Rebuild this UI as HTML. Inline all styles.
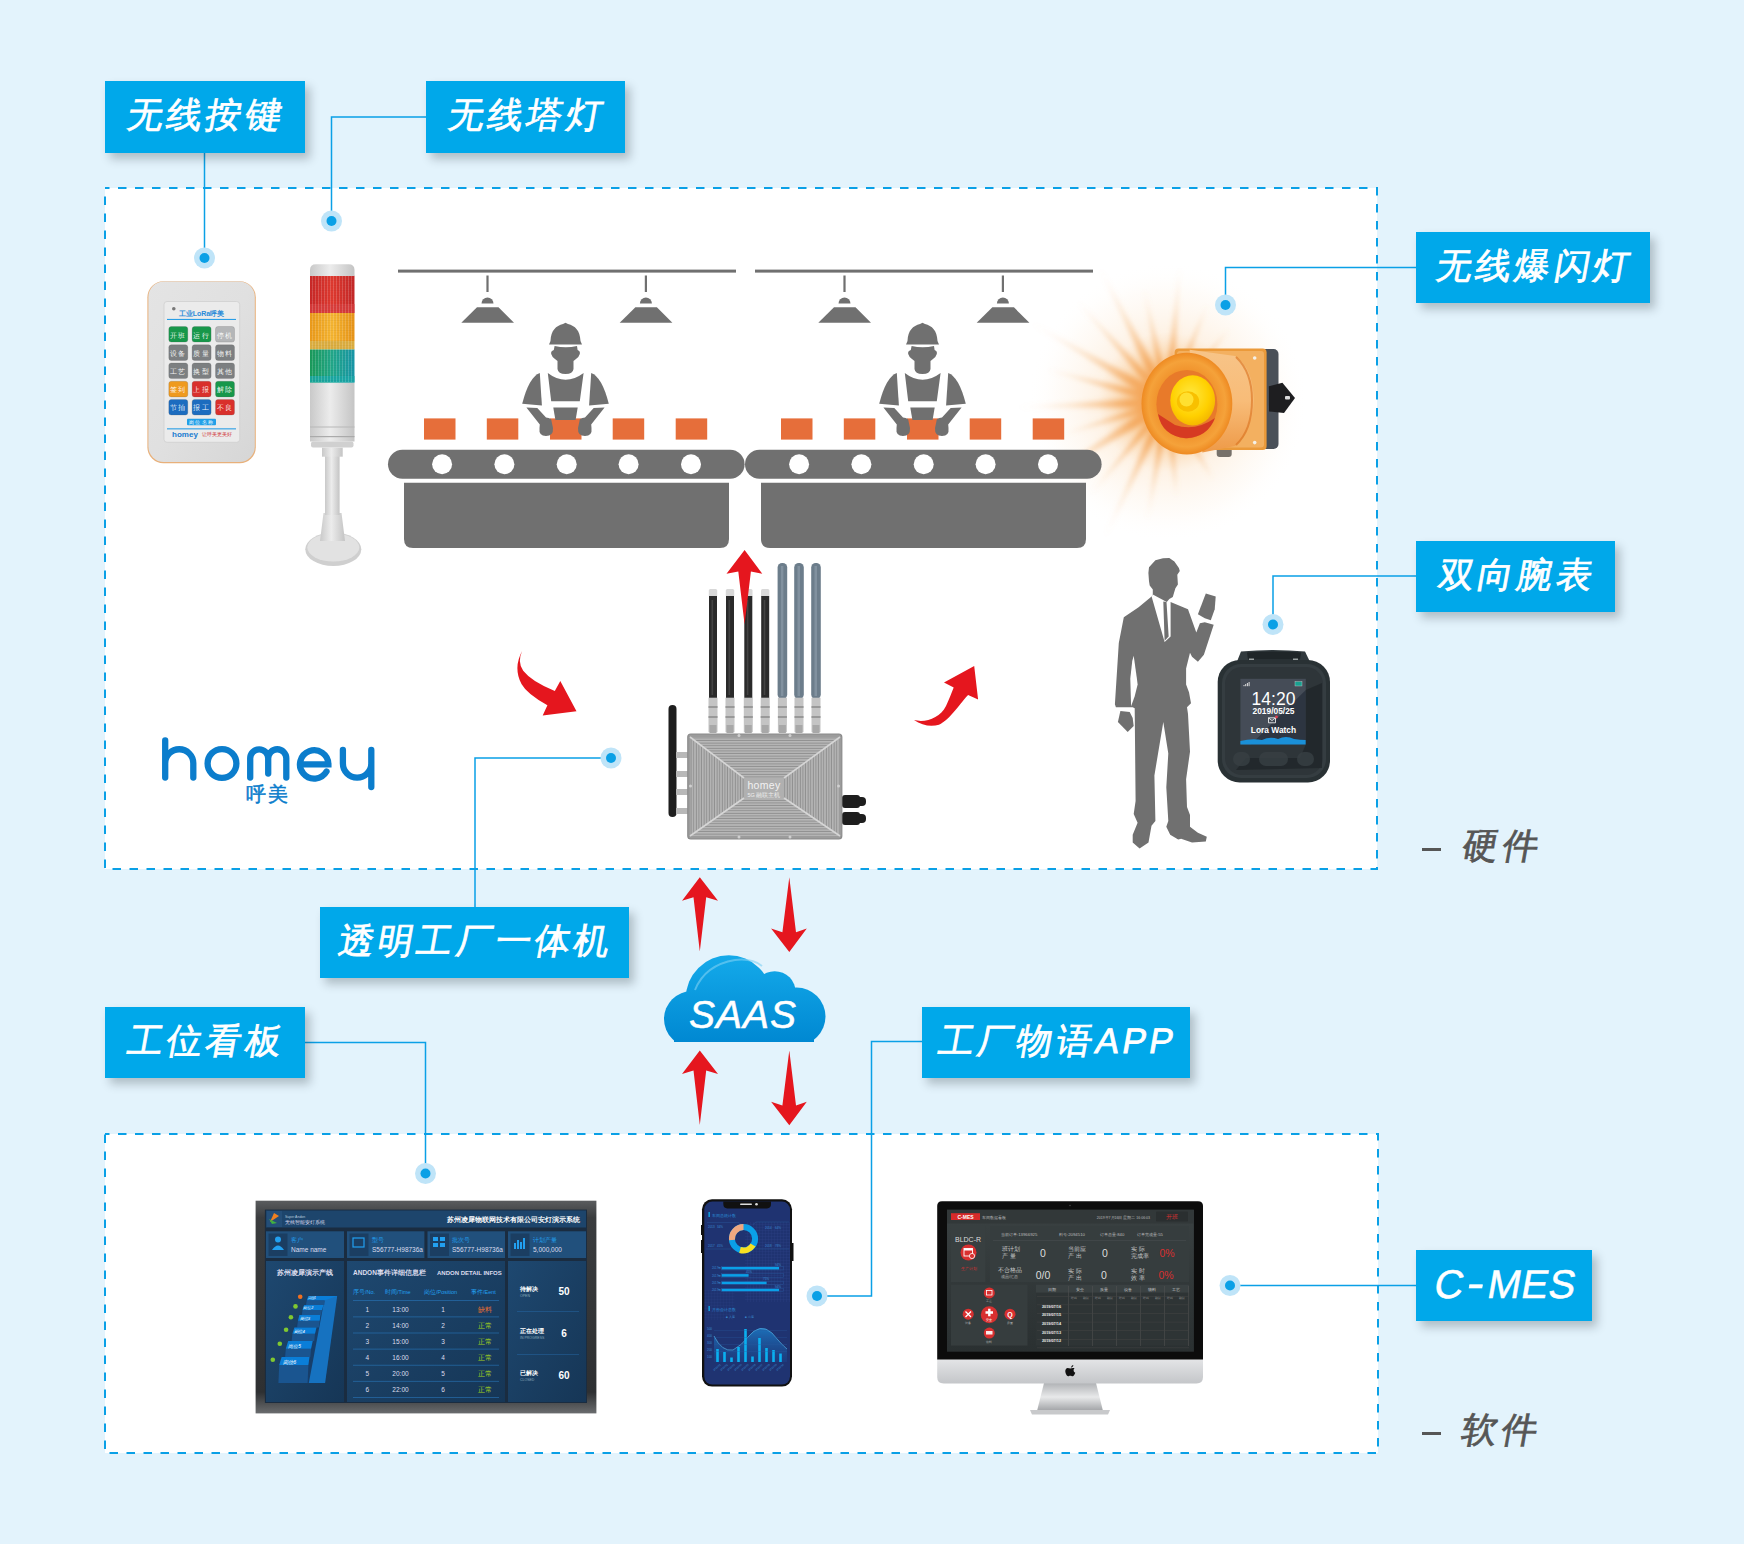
<!DOCTYPE html>
<html><head><meta charset="utf-8">
<style>
html,body{margin:0;padding:0;}
body{width:1744px;height:1544px;background:#e3f3fc;overflow:hidden;position:relative;font-family:"Liberation Sans",sans-serif;}
svg{position:absolute;left:0;top:0;}
.lbl{position:absolute;background:#00a8ea;color:#fff;font-size:35.5px;line-height:71px;height:71px;text-align:center;box-shadow:5px 6px 9px rgba(20,30,40,0.25);white-space:nowrap;}
.lbl span{display:inline-block;transform:skewX(-10deg);-webkit-text-stroke:0.8px #fff;letter-spacing:3.2px;position:relative;top:-1.5px;left:1.6px;}
.side{position:absolute;color:#565656;font-size:35.5px;line-height:40px;white-space:nowrap;}
.side span{display:inline-block;transform:skewX(-10deg);-webkit-text-stroke:0.8px #565656;letter-spacing:4.5px;}
.dash{position:absolute;width:19px;height:3.3px;background:#565656;}
</style></head><body>
<svg width="1744" height="1544" viewBox="0 0 1744 1544">
  <!-- boxes -->
  <rect x="105" y="188" width="1272" height="681" fill="#fff" stroke="#0aa0e6" stroke-width="2" stroke-dasharray="8.5 8.5" stroke-dashoffset="4"/>
  <rect x="105" y="1134" width="1273" height="319" fill="#fff" stroke="#0aa0e6" stroke-width="2" stroke-dasharray="8.5 8.5" stroke-dashoffset="4"/>



  <!-- keypad -->
  <defs>
    <linearGradient id="kpg" x1="0" y1="0" x2="1" y2="1"><stop offset="0" stop-color="#e4e4e4"/><stop offset="0.5" stop-color="#e0e0e0"/><stop offset="1" stop-color="#d6d6d6"/></linearGradient>
    <linearGradient id="tw" x1="0" y1="0" x2="1" y2="0"><stop offset="0" stop-color="#c9c9c9"/><stop offset="0.45" stop-color="#ececec"/><stop offset="1" stop-color="#c4c4c4"/></linearGradient>
    <linearGradient id="tr" x1="0" y1="0" x2="1" y2="0"><stop offset="0" stop-color="#c82828"/><stop offset="0.5" stop-color="#e03a30"/><stop offset="1" stop-color="#c42828"/></linearGradient>
    <linearGradient id="to" x1="0" y1="0" x2="1" y2="0"><stop offset="0" stop-color="#eb9a1a"/><stop offset="0.5" stop-color="#f6b632"/><stop offset="1" stop-color="#e89418"/></linearGradient>
    <linearGradient id="tg" x1="0" y1="0" x2="1" y2="0"><stop offset="0" stop-color="#1a9a5a"/><stop offset="0.5" stop-color="#22a88a"/><stop offset="1" stop-color="#1896a8"/></linearGradient>
  </defs>
  <rect x="147.4" y="281.3" width="108.4" height="182" rx="16" fill="#e8b07a"/>
  <rect x="148.4" y="281.5" width="106.4" height="180.6" rx="15.5" fill="url(#kpg)"/>
  <rect x="164" y="301.5" width="75.7" height="140.8" rx="3" fill="#ebebeb" stroke="#cfcfcf" stroke-width="0.8"/>
  <circle cx="173.8" cy="308.8" r="1.8" fill="#777"/>
  <text x="201.5" y="316.3" font-size="7" fill="#2a8ad8" text-anchor="middle" font-weight="bold">工业LoRa呼美</text>
  <rect x="167" y="318.9" width="69" height="1.1" fill="#2a9ee6"/>
  <rect x="168.8" y="326.5" width="19" height="15.6" rx="2.5" fill="#17974a" stroke="#5a5a5a" stroke-opacity="0.35" stroke-width="0.6"/><text x="178.3" y="337.5" font-size="6.6" fill="#fff" fill-opacity="0.92" text-anchor="middle" letter-spacing="1.2">开班</text><rect x="192.1" y="326.5" width="19" height="15.6" rx="2.5" fill="#17974a" stroke="#5a5a5a" stroke-opacity="0.35" stroke-width="0.6"/><text x="201.6" y="337.5" font-size="6.6" fill="#fff" fill-opacity="0.92" text-anchor="middle" letter-spacing="1.2">运行</text><rect x="215.5" y="326.5" width="19" height="15.6" rx="2.5" fill="#b4b6b8" stroke="#5a5a5a" stroke-opacity="0.35" stroke-width="0.6"/><text x="225.0" y="337.5" font-size="6.6" fill="#fff" fill-opacity="0.92" text-anchor="middle" letter-spacing="1.2">停机</text><rect x="168.8" y="344.8" width="19" height="15.6" rx="2.5" fill="#7c7f81" stroke="#5a5a5a" stroke-opacity="0.35" stroke-width="0.6"/><text x="178.3" y="355.8" font-size="6.6" fill="#fff" fill-opacity="0.92" text-anchor="middle" letter-spacing="1.2">设备</text><rect x="192.1" y="344.8" width="19" height="15.6" rx="2.5" fill="#7c7f81" stroke="#5a5a5a" stroke-opacity="0.35" stroke-width="0.6"/><text x="201.6" y="355.8" font-size="6.6" fill="#fff" fill-opacity="0.92" text-anchor="middle" letter-spacing="1.2">质量</text><rect x="215.5" y="344.8" width="19" height="15.6" rx="2.5" fill="#7c7f81" stroke="#5a5a5a" stroke-opacity="0.35" stroke-width="0.6"/><text x="225.0" y="355.8" font-size="6.6" fill="#fff" fill-opacity="0.92" text-anchor="middle" letter-spacing="1.2">物料</text><rect x="168.8" y="363" width="19" height="15.6" rx="2.5" fill="#7c7f81" stroke="#5a5a5a" stroke-opacity="0.35" stroke-width="0.6"/><text x="178.3" y="374" font-size="6.6" fill="#fff" fill-opacity="0.92" text-anchor="middle" letter-spacing="1.2">工艺</text><rect x="192.1" y="363" width="19" height="15.6" rx="2.5" fill="#7c7f81" stroke="#5a5a5a" stroke-opacity="0.35" stroke-width="0.6"/><text x="201.6" y="374" font-size="6.6" fill="#fff" fill-opacity="0.92" text-anchor="middle" letter-spacing="1.2">换型</text><rect x="215.5" y="363" width="19" height="15.6" rx="2.5" fill="#7c7f81" stroke="#5a5a5a" stroke-opacity="0.35" stroke-width="0.6"/><text x="225.0" y="374" font-size="6.6" fill="#fff" fill-opacity="0.92" text-anchor="middle" letter-spacing="1.2">其他</text><rect x="168.8" y="381.3" width="19" height="15.6" rx="2.5" fill="#ef9a1e" stroke="#5a5a5a" stroke-opacity="0.35" stroke-width="0.6"/><text x="178.3" y="392.3" font-size="6.6" fill="#fff" fill-opacity="0.92" text-anchor="middle" letter-spacing="1.2">签到</text><rect x="192.1" y="381.3" width="19" height="15.6" rx="2.5" fill="#d9302b" stroke="#5a5a5a" stroke-opacity="0.35" stroke-width="0.6"/><text x="201.6" y="392.3" font-size="6.6" fill="#fff" fill-opacity="0.92" text-anchor="middle" letter-spacing="1.2">上报</text><rect x="215.5" y="381.3" width="19" height="15.6" rx="2.5" fill="#17974a" stroke="#5a5a5a" stroke-opacity="0.35" stroke-width="0.6"/><text x="225.0" y="392.3" font-size="6.6" fill="#fff" fill-opacity="0.92" text-anchor="middle" letter-spacing="1.2">解除</text><rect x="168.8" y="399.4" width="19" height="15.6" rx="2.5" fill="#1c6cbf" stroke="#5a5a5a" stroke-opacity="0.35" stroke-width="0.6"/><text x="178.3" y="410.4" font-size="6.6" fill="#fff" fill-opacity="0.92" text-anchor="middle" letter-spacing="1.2">节拍</text><rect x="192.1" y="399.4" width="19" height="15.6" rx="2.5" fill="#1c6cbf" stroke="#5a5a5a" stroke-opacity="0.35" stroke-width="0.6"/><text x="201.6" y="410.4" font-size="6.6" fill="#fff" fill-opacity="0.92" text-anchor="middle" letter-spacing="1.2">报工</text><rect x="215.5" y="399.4" width="19" height="15.6" rx="2.5" fill="#d9302b" stroke="#5a5a5a" stroke-opacity="0.35" stroke-width="0.6"/><text x="225.0" y="410.4" font-size="6.6" fill="#fff" fill-opacity="0.92" text-anchor="middle" letter-spacing="1.2">不良</text>
  <rect x="187" y="418.7" width="29" height="6.6" rx="1" fill="#22a0e8"/><text x="201.5" y="424" font-size="4.6" fill="#fff" text-anchor="middle" letter-spacing="1.5">岗位名称</text>
  <rect x="167" y="428.3" width="69" height="1.1" fill="#2a9ee6"/>
  <text x="185" y="436.5" font-size="8" fill="#1a7cd0" text-anchor="middle" font-weight="bold">homey</text>
  <text x="217" y="436" font-size="5" fill="#d03030" text-anchor="middle">让呼美更美好</text>
  <!-- tower light -->
  <ellipse cx="333.3" cy="549.3" rx="28" ry="16.7" fill="#cfcfcf"/>
  <ellipse cx="333.3" cy="547.5" rx="26" ry="14" fill="#e2e2e2"/>
  <path d="M323.5 513 H341.5 L345 541 H320 Z" fill="url(#tw)"/>
  <rect x="325" y="455" width="14.6" height="60" fill="url(#tw)"/>
  <rect x="322" y="447.7" width="20.7" height="9" fill="url(#tw)"/>
  <rect x="310" y="382.5" width="44.5" height="59" fill="url(#tw)"/>
  <rect x="310" y="426.5" width="44.5" height="1" fill="#b8b8b8"/>
  <rect x="310" y="436" width="44.5" height="1.2" fill="#aaaaaa"/>
  <rect x="311" y="441.5" width="42.5" height="6" rx="2" fill="#d0d0d0"/>
  <rect x="310" y="349.3" width="44.5" height="33.2" fill="url(#tg)"/>
  <rect x="310" y="376" width="44.5" height="6.5" fill="#1aa8a8" opacity="0.8"/>
  <rect x="310" y="341" width="44.5" height="8.3" fill="#dcae40"/>
  <rect x="310" y="313" width="44.5" height="28" fill="url(#to)"/>
  <rect x="310" y="275.7" width="44.5" height="37.3" fill="url(#tr)"/>
  <rect x="310" y="304" width="44.5" height="9" fill="#d84040" opacity="0.7"/>
  <path d="M310 276 V270 Q310 264.3 316 264.3 H348.5 Q354.5 264.3 354.5 270 V276 Z" fill="url(#tw)"/>
  <defs><pattern id="rib" width="3" height="2.5" patternUnits="userSpaceOnUse"><rect width="0.8" height="2.5" fill="#fff" opacity="0.22"/><rect width="3" height="0.6" fill="#000" opacity="0.06"/></pattern></defs>
  <rect x="311" y="276" width="42.5" height="106" fill="url(#rib)"/>
  <defs><radialGradient id="glow" cx="1168" cy="402" r="140" gradientUnits="userSpaceOnUse"><stop offset="0" stop-color="#f39a38" stop-opacity="0.95"/><stop offset="0.3" stop-color="#f5a850" stop-opacity="0.5"/><stop offset="0.5" stop-color="#f8c080" stop-opacity="0.2"/><stop offset="0.8" stop-color="#fbd8b0" stop-opacity="0.08"/><stop offset="1" stop-color="#fff" stop-opacity="0"/></radialGradient><filter id="blr" x="-50%" y="-50%" width="200%" height="200%"><feGaussianBlur stdDeviation="2.5"/></filter>
  <radialGradient id="rayg" cx="1168" cy="402" r="165" gradientUnits="userSpaceOnUse"><stop offset="0.25" stop-color="#f3a050" stop-opacity="0.75"/><stop offset="0.6" stop-color="#f6b878" stop-opacity="0.3"/><stop offset="1" stop-color="#f8c090" stop-opacity="0"/></radialGradient></defs>
  <circle cx="1168" cy="402" r="140" fill="url(#glow)"/>
  <g fill="url(#rayg)" filter="url(#blr)"><path d="M1163.5 399.9 L1104.6 537.9 L1172.5 404.1 Z"/><path d="M1164.9 399.4 L1090.9 493.9 L1171.1 404.6 Z"/><path d="M1164.8 396.9 L1028.1 489.4 L1171.2 407.1 Z"/><path d="M1166.8 398.2 L1062.8 434.2 L1169.2 405.8 Z"/><path d="M1167.8 396.0 L1018.1 407.2 L1168.2 408.0 Z"/><path d="M1169.3 397.2 L1047.3 369.6 L1166.7 406.8 Z"/><path d="M1171.0 396.8 L1029.4 322.0 L1165.0 407.2 Z"/><path d="M1171.7 398.7 L1077.7 301.7 L1164.3 405.3 Z"/><path d="M1173.3 399.3 L1099.9 268.3 L1162.7 404.7 Z"/><path d="M1171.9 401.2 L1144.1 289.5 L1164.1 402.8 Z"/><path d="M1173.0 402.4 L1179.8 267.5 L1163.0 401.6 Z"/><path d="M1171.7 403.5 L1207.3 304.6 L1164.3 400.5 Z"/><path d="M1164.1 401.3 L1147.2 520.2 L1171.9 402.7 Z"/><path d="M1164.0 402.3 L1176.3 496.6 L1172.0 401.7 Z"/><path d="M1171.1 404.6 L1229.1 329.2 L1164.9 399.4 Z"/><path d="M1164.5 404.0 L1213.0 479.9 L1171.5 400.0 Z"/></g>
  <!-- conveyor scene -->
  <defs>
    <g id="lamp">
      <rect x="486.4" y="275.5" width="2.2" height="16.5"/>
      <path d="M481.5 303.5 A6 6 0 0 1 493.5 303.5 Z"/>
      <path d="M477 307.3 H498.5 L514 322.7 H461.3 Z"/>
    </g>
    <g id="worker">
      <path d="M549 344.5 L582 344.5 L580.5 341 C580 330 575 326 568 324 L565.5 322.8 L563 324 C556 326 551 330 550.5 341 Z"/>
      <path d="M554.6 346 Q565.7 348.5 577 346 L577.6 350 Q580.5 351 579.8 354 Q579 357 576 359 L573.5 361 L573.5 369 Q573 374 565.5 374 Q558 374 557.5 369 L557.5 361 L555 359 Q552 357 551.2 354 Q550.5 351 553.8 350 Z"/>
      <path d="M547.8 373 Q565.5 386.6 583.6 373 L579.8 401.3 L551.2 401.3 Z"/>
      <path d="M539.8 373 Q529 377 522.2 403.8 L541.9 405.5 Z"/>
      <path d="M591.2 373 Q602 377 608.8 403.8 L589.1 405.5 Z"/>
      <path d="M553.3 407.6 H577.7 L575.6 420 H555.4 Z"/>
      <path d="M526.4 407.6 L537.3 408 L546 417.5 Q552 418 551.5 421 L553 428 Q553.5 436 546 436 Q538.5 436 539.5 428 L539.8 424.4 Z"/>
      <path d="M604.6 407.6 L593.7 408 L585 417.5 Q579 418 579.5 421 L578 428 Q577.5 436 585 436 Q592.5 436 591.5 428 L591.2 424.4 Z"/>
    </g>
    <g id="belt">
      <rect x="398" y="269.6" width="338" height="3"/>
      <use href="#lamp"/>
      <use href="#lamp" transform="translate(158.4 0)"/>
      <rect x="388" y="449.8" width="356.6" height="29" rx="14.5"/>
      <path d="M404 482.7 H729 V539 Q729 548 720 548 H413 Q404 548 404 539 Z"/>
      <g fill="#fff">
        <circle cx="442.1" cy="464.3" r="10"/><circle cx="504.4" cy="464.3" r="10"/><circle cx="566.7" cy="464.3" r="10"/><circle cx="628.6" cy="464.3" r="10"/><circle cx="691" cy="464.3" r="10"/>
      </g>
      <g fill="#e66e3a">
        <rect x="424" y="418.4" width="31.5" height="21.2"/><rect x="486.8" y="418.4" width="31.5" height="21.2"/><rect x="550" y="418.4" width="31.5" height="21.2"/><rect x="612.7" y="418.4" width="31.5" height="21.2"/><rect x="675.7" y="418.4" width="31.5" height="21.2"/>
      </g>
      <use href="#worker"/>
    </g>
  </defs>
  <g fill="#707070">
    <use href="#belt"/>
    <use href="#belt" transform="translate(357 0)"/>
  </g>

  <!-- strobe light -->
  <defs>
    
    <linearGradient id="sbody" x1="0" y1="0" x2="0" y2="1"><stop offset="0" stop-color="#f7c488"/><stop offset="0.5" stop-color="#f8bc78"/><stop offset="1" stop-color="#ee9a48"/></linearGradient>
    <radialGradient id="sface" cx="0.5" cy="0.5" r="0.5"><stop offset="0.6" stop-color="#f0902a"/><stop offset="0.85" stop-color="#f5a23a"/><stop offset="1" stop-color="#ee8a22"/></radialGradient>
    <radialGradient id="syel" cx="0.45" cy="0.4" r="0.6"><stop offset="0" stop-color="#ffe840"/><stop offset="0.7" stop-color="#ffd000"/><stop offset="1" stop-color="#f5b800"/></radialGradient>
  </defs>
  <rect x="1258" y="349" width="20.5" height="100" rx="5" fill="#4a5058"/>
  <path d="M1268.9 386.2 L1282.4 382.8 L1295 398 L1284 413 L1269 411.4 Z" fill="#1e1e20"/>
  <rect x="1285" y="396" width="5" height="3.5" rx="1" fill="#ddd"/>
  <rect x="1216.7" y="445" width="15" height="12" rx="3" fill="#77716a"/>
  <rect x="1174.6" y="348.6" width="92" height="101.5" rx="4" fill="#eb9a3a"/>
  <rect x="1177" y="351" width="87" height="96.5" rx="3" fill="#f3b060"/>
  <circle cx="1254.7" cy="358" r="1.8" fill="#f4f0e8"/><circle cx="1254.7" cy="442.6" r="1.8" fill="#f4f0e8"/>
  <path d="M1189.6 349.7 L1235 356 Q1253 368 1253.7 400 Q1253 432 1235 446 L1202.4 452.5 Z" fill="url(#sbody)"/>
  <path d="M1236 357 Q1252 372 1252 400 Q1252 430 1236 445" stroke="#d8701c" stroke-width="2" fill="none" opacity="0.6"/>
  <ellipse cx="1186.9" cy="403.6" rx="45.4" ry="50.8" fill="url(#sface)"/>
  <ellipse cx="1186.9" cy="404.2" rx="30.5" ry="34.2" fill="#e87a2a"/>
  <path d="M1158 414 Q1162 436 1186 438.3 Q1208 437 1215 418 Q1195 432 1175 425 Z" fill="#d63a22"/>
  <ellipse cx="1192.7" cy="400.4" rx="22.4" ry="25.1" fill="url(#syel)"/>
  <ellipse cx="1188" cy="401.5" rx="11.2" ry="10.2" fill="#f8c000"/>
  <ellipse cx="1186.5" cy="399.5" rx="7" ry="7" fill="#ffe030"/>
  <!-- man silhouette -->
  <g fill="#707070">
<polygon points="1169.3,558.0 1174.4,561.5 1178.9,567.9 1179.8,571.0 1177.3,574.8 1177.9,584.4 1175.4,588.2 1172.8,597.1 1169.3,599.0 1166.8,602.1 1170.6,602.1 1188.0,609.3 1196.3,632.6 1199.9,623.2 1204.8,622.2 1213.7,624.7 1203.9,654.8 1197.9,661.7 1192.0,656.8 1190.0,652.8 1186.1,668.6 1186.1,684.4 1189.0,692.3 1191.0,703.2 1187.0,707.2 1188.0,714.1 1190.0,751.7 1186.1,779.3 1187.0,807.0 1190.0,814.9 1190.0,826.8 1197.9,832.7 1206.8,836.7 1205.8,841.6 1192.0,842.6 1181.1,838.7 1178.2,839.6 1170.2,834.7 1166.3,826.8 1168.3,820.9 1166.3,787.2 1168.3,753.6 1163.3,722.0 1154.4,775.4 1155.4,820.9 1151.5,825.8 1148.5,842.6 1139.6,848.5 1132.7,842.6 1132.7,834.7 1137.6,822.8 1133.7,813.9 1135.6,801.1 1134.7,708.2 1132.7,707.2 1115.9,707.2 1114.9,704.2 1118.8,642.9 1123.8,617.2 1138.6,607.3 1151.6,596.4 1152.8,594.5 1152.8,589.4 1149.7,585.6 1149.0,581.2 1148.4,572.9 1149.0,567.2 1155.4,560.2 1163.0,558.3"/>
<polygon points="1120.4,711.1 1129.7,712.1 1132.7,718.1 1133.7,726.0 1127.7,731.9 1117.9,722.0"/>
<polygon points="1205.8,593.5 1215.7,596.5 1214.7,609.3 1210.8,620.2 1204.8,618.2 1197.9,614.3"/>
<polygon fill="#fff" points="1151.6,596.4 1152.8,594.5 1166.8,602.1 1170.6,602.1 1170.6,636.4 1164.6,642.1"/>
<polygon points="1163.3,601.5 1166.5,602.1 1168.7,636.4 1164.6,640.8"/>
<polygon fill="#fff" points="1133.7,655.8 1136.6,676.5 1137.6,684.4 1134.7,696.3 1131.1,706.2 1130.3,678.5 1132.3,660.7"/>
  </g>

  <!-- gateway -->
  <defs>
    <linearGradient id="gwg" x1="0" y1="0" x2="0" y2="1"><stop offset="0" stop-color="#b4b4b4"/><stop offset="0.5" stop-color="#a2a2a2"/><stop offset="1" stop-color="#9a9a9a"/></linearGradient>
  </defs>
  <rect x="708.8" y="589" width="8.4" height="8" rx="1.5" fill="#d8d8d8"/><rect x="709" y="596" width="8" height="102" fill="#2a2a2a"/><rect x="711.5" y="600" width="1.6" height="95" fill="#555" opacity="0.6"/><rect x="708.5" y="697.7" width="9" height="34.5" fill="#c4c4c4"/><rect x="708.5" y="706" width="9" height="2" fill="#999"/><rect x="708.5" y="716" width="9" height="2" fill="#999"/><rect x="709.5" y="725" width="7" height="8" fill="#a8a8a8"/><rect x="725.8" y="589" width="8.4" height="8" rx="1.5" fill="#d8d8d8"/><rect x="726" y="596" width="8" height="102" fill="#2a2a2a"/><rect x="728.5" y="600" width="1.6" height="95" fill="#555" opacity="0.6"/><rect x="725.5" y="697.7" width="9" height="34.5" fill="#c4c4c4"/><rect x="725.5" y="706" width="9" height="2" fill="#999"/><rect x="725.5" y="716" width="9" height="2" fill="#999"/><rect x="726.5" y="725" width="7" height="8" fill="#a8a8a8"/><rect x="744.0999999999999" y="589" width="8.4" height="8" rx="1.5" fill="#d8d8d8"/><rect x="744.3" y="596" width="8" height="102" fill="#2a2a2a"/><rect x="746.8" y="600" width="1.6" height="95" fill="#555" opacity="0.6"/><rect x="743.8" y="697.7" width="9" height="34.5" fill="#c4c4c4"/><rect x="743.8" y="706" width="9" height="2" fill="#999"/><rect x="743.8" y="716" width="9" height="2" fill="#999"/><rect x="744.8" y="725" width="7" height="8" fill="#a8a8a8"/><rect x="761.0" y="589" width="8.4" height="8" rx="1.5" fill="#d8d8d8"/><rect x="761.2" y="596" width="8" height="102" fill="#2a2a2a"/><rect x="763.7" y="600" width="1.6" height="95" fill="#555" opacity="0.6"/><rect x="760.7" y="697.7" width="9" height="34.5" fill="#c4c4c4"/><rect x="760.7" y="706" width="9" height="2" fill="#999"/><rect x="760.7" y="716" width="9" height="2" fill="#999"/><rect x="761.7" y="725" width="7" height="8" fill="#a8a8a8"/><rect x="777.6" y="563" width="9.6" height="136" rx="4.5" fill="#6c7d8b"/><rect x="780.9" y="566" width="2.5" height="130" fill="#8a9aa8" opacity="0.7"/><rect x="777.9" y="697.7" width="9" height="34.5" fill="#c4c4c4"/><rect x="777.9" y="706" width="9" height="2" fill="#999"/><rect x="777.9" y="716" width="9" height="2" fill="#999"/><rect x="778.9" y="725" width="7" height="8" fill="#a8a8a8"/><rect x="794.2" y="563" width="9.6" height="136" rx="4.5" fill="#6c7d8b"/><rect x="797.5" y="566" width="2.5" height="130" fill="#8a9aa8" opacity="0.7"/><rect x="794.5" y="697.7" width="9" height="34.5" fill="#c4c4c4"/><rect x="794.5" y="706" width="9" height="2" fill="#999"/><rect x="794.5" y="716" width="9" height="2" fill="#999"/><rect x="795.5" y="725" width="7" height="8" fill="#a8a8a8"/><rect x="811.2" y="563" width="9.6" height="136" rx="4.5" fill="#6c7d8b"/><rect x="814.5" y="566" width="2.5" height="130" fill="#8a9aa8" opacity="0.7"/><rect x="811.5" y="697.7" width="9" height="34.5" fill="#c4c4c4"/><rect x="811.5" y="706" width="9" height="2" fill="#999"/><rect x="811.5" y="716" width="9" height="2" fill="#999"/><rect x="812.5" y="725" width="7" height="8" fill="#a8a8a8"/>
  <rect x="668.5" y="705" width="8" height="112" rx="4" fill="#1e1e1e"/>
  <g fill="#b8b8b8"><rect x="676" y="752" width="12" height="6"/><rect x="676" y="771" width="12" height="6"/><rect x="676" y="789" width="12" height="6"/><rect x="676" y="808" width="12" height="6"/></g>
  <g fill="#1e1e1e"><rect x="842" y="795" width="18" height="13" rx="3"/><rect x="842" y="812" width="18" height="13" rx="3"/><rect x="856" y="797" width="10" height="9" rx="4"/><rect x="856" y="814" width="10" height="9" rx="4"/></g>
  <defs>
    <pattern id="hs" width="6" height="2.6" patternUnits="userSpaceOnUse"><rect width="6" height="2.6" fill="#b8b8b8"/><rect y="1.6" width="6" height="0.9" fill="#8a8a8a"/></pattern>
    <pattern id="vs" width="2.6" height="6" patternUnits="userSpaceOnUse"><rect width="2.6" height="6" fill="#b6b6b6"/><rect x="1.6" width="0.9" height="6" fill="#8a8a8a"/></pattern>
  </defs>
  <rect x="687.8" y="734" width="154" height="105" rx="3" fill="#9c9c9c"/>
  <polygon points="691,737 839,737 784,778 744,778" fill="url(#hs)"/>
  <polygon points="691,836 839,836 784,798 744,798" fill="url(#hs)"/>
  <polygon points="690.5,738 744,778 744,798 690.5,835" fill="url(#vs)"/>
  <polygon points="839,738 784,778 784,798 839,835" fill="url(#vs)"/>
  <rect x="744" y="778" width="40" height="20" fill="#b0b0b0"/>
  <g stroke="#d6d6d6" stroke-width="1.6"><line x1="690" y1="737" x2="744" y2="778"/><line x1="840" y1="737" x2="784" y2="778"/><line x1="690" y1="836" x2="744" y2="798"/><line x1="840" y1="836" x2="784" y2="798"/></g>
  <rect x="687.8" y="734" width="154" height="105" rx="3" fill="none" stroke="#8a8a8a" stroke-width="1.2"/>
  <g fill="#d0d0d0"><circle cx="739" cy="735.5" r="1.5"/><circle cx="790" cy="735.5" r="1.5"/><circle cx="739" cy="837" r="1.5"/><circle cx="790" cy="837" r="1.5"/><circle cx="690.5" cy="786" r="1.5"/><circle cx="838.5" cy="786" r="1.5"/></g>
  <text x="764" y="788.5" font-size="10.5" fill="#f2f2f2" text-anchor="middle" letter-spacing="0.3">homey</text>
  <text x="764" y="797" font-size="5.5" fill="#eee" text-anchor="middle">5G 融联主机</text>
  <!-- arrows -->
  <g fill="#e5161e">
    <path d="M744.6 550 L762.3 573.8 L750.9 571.5 L744.6 624.6 L738.3 571.5 L726.5 573.8 Z"/>
    <path d="M522.1 651 Q513 668 521.5 684 Q527 694 547.4 705.2 L542.7 715.4 L576.5 711.3 L560.3 681 L554.8 690.9 Q532 682 523.2 670.8 Q517 662 522.1 651 Z"/>
    <path d="M914 720.1 C926 723 940 718 946 706 C949 699 952 692 953.7 687.4 L944 682.5 L974.2 666 L978.1 699.6 L968.1 695 C962 701 950 720 939 724.7 C932 727 922 726 914 720.1 Z"/>
    <path d="M699.8 877.2 L718 900.8 L706.2 897.2 L699.8 951.6 L693.5 897.2 L682 900.8 Z"/>
    <path d="M789.3 877.2 L796 932.2 L806.8 928.5 L789.3 952.1 L771.1 928.5 L782.4 932.2 Z"/>
    <path d="M699.8 1050.4 L718 1074 L706.2 1070.4 L699.8 1125 L693.5 1070.4 L682 1074 Z"/>
    <path d="M789.3 1050.4 L796 1105.4 L806.8 1101.7 L789.3 1125.3 L771.1 1101.7 L782.4 1105.4 Z"/>
  </g>
  <!-- watch -->
  <defs>
    <linearGradient id="wg" x1="0" y1="0" x2="1" y2="1"><stop offset="0" stop-color="#3a434a"/><stop offset="1" stop-color="#20272c"/></linearGradient>
  </defs>
  <path d="M1236 664 L1241 651.5 Q1273 648.5 1305 651.5 L1311 664 Z" fill="#323a3e"/>
  <path d="M1247 652.5 Q1273 650.5 1301 652.5 L1300 659.5 H1248 Z" fill="#1f2528"/>
  <rect x="1249" y="658.5" width="5" height="2.5" fill="#9aa0a0"/><rect x="1293" y="658.5" width="5" height="2.5" fill="#9aa0a0"/>
  <rect x="1217.7" y="660" width="112.3" height="122.5" rx="22" fill="#293134"/>
  <rect x="1222" y="664" width="104" height="114" rx="19" fill="#353d41"/>
  <rect x="1225" y="667" width="98" height="108" rx="17" fill="#2e3539"/>
  <rect x="1240.4" y="678.8" width="65.4" height="65.6" fill="#454c57"/>
  <path d="M1305.8 690 V744.4 H1251 Z" fill="#252d3a" opacity="0.75"/>
  <path d="M1240.4 741 Q1252 738 1262 740 Q1270 736 1278 739 Q1286 735 1294 739 Q1300 740 1305.8 740 V744.4 H1240.4 Z" fill="#1a90d8"/>
  <path d="M1322 683 L1322 768 L1236 770 L1246 758 L1300 758 L1305.8 744.4 V690 Z" fill="#1e2427" opacity="0.7"/>
  <text x="1273.5" y="705" font-size="17.5" fill="#fff" text-anchor="middle">14:20</text>
  <text x="1273.5" y="714" font-size="8.4" fill="#fff" text-anchor="middle" font-weight="bold">2019/05/25</text>
  <path d="M1268.5 717.8 h7 v5 h-7 z M1268.5 717.8 l3.5 2.8 l3.5 -2.8" fill="none" stroke="#fff" stroke-width="0.8"/><circle cx="1276.5" cy="717" r="1.4" fill="#e04050"/>
  <text x="1273.5" y="732.5" font-size="8.4" fill="#fff" text-anchor="middle" font-weight="bold">Lora Watch</text>
  <g fill="#ddd"><rect x="1243.5" y="685" width="1" height="1.2"/><rect x="1245.2" y="684" width="1" height="2.2"/><rect x="1246.9" y="683" width="1" height="3.2"/><rect x="1248.6" y="682" width="1" height="4.2"/></g>
  <rect x="1295" y="681.5" width="7" height="4.5" fill="#18a090" stroke="#ccc" stroke-width="0.4"/>
  <g fill="#384044" opacity="0.8"><rect x="1233" y="752" width="17" height="14" rx="7"/><rect x="1259" y="752" width="29" height="14" rx="7"/><rect x="1297" y="752" width="17" height="14" rx="7"/></g>
  <!-- homey logo -->
  <g stroke="#0b7dcc" stroke-width="6.3" fill="none" stroke-linecap="round">
    <path d="M165.2 740.5 V777.6 M165.2 763.3 A14 14 0 0 1 193.3 763.3 V777.6"/>
    <circle cx="222" cy="763.5" r="14.4"/>
    <path d="M250.2 777.6 V758.3 A9 9 0 0 1 268.2 758.3 V773.5 M268.2 758.3 A9 9 0 0 1 286.3 758.3 V777.6"/>
    <path d="M300 764.3 H328.4 A14.2 14.2 0 1 0 326.5 771.5"/>
    <path d="M342.9 750 V763.5 A14.2 14.2 0 0 0 371.3 763.5 M371.3 750 V787"/>
  </g>
  <text x="268" y="801" font-size="19.5" fill="#0b7dcc" stroke="#0b7dcc" stroke-width="0.5" text-anchor="middle" font-family="Liberation Serif, serif" letter-spacing="2">呼美</text>
  <!-- cloud -->
  <defs>
    <linearGradient id="cg" x1="0" y1="955" x2="0" y2="1042" gradientUnits="userSpaceOnUse"><stop offset="0" stop-color="#14aaea"/><stop offset="1" stop-color="#0088d2"/></linearGradient>
    <clipPath id="cclip"><rect x="600" y="940" width="260" height="102"/></clipPath>
  </defs>
  <g clip-path="url(#cclip)" fill="url(#cg)">
    <circle cx="692" cy="1019" r="28"/><circle cx="728.8" cy="998.3" r="43"/><circle cx="774.7" cy="992.2" r="21"/><circle cx="796.5" cy="1016.5" r="29"/>
    <rect x="674" y="1010" width="140" height="32"/>
  </g>
  <path d="M695 990 Q705 965 735 960 Q752 958 762 966" stroke="#7fd0f4" stroke-width="2" fill="none" opacity="0.6"/>
  <text x="743" y="1028" font-size="39" fill="#fff" stroke="#fff" stroke-width="0.5" text-anchor="middle" font-style="italic" letter-spacing="1">SAAS</text>

  <!-- board monitor -->
  <defs>
    <linearGradient id="bf" x1="0" y1="0" x2="0" y2="1"><stop offset="0" stop-color="#5a5c5e"/><stop offset="0.08" stop-color="#3a3c3e"/><stop offset="0.9" stop-color="#2e3032"/><stop offset="1" stop-color="#6a6c6e"/></linearGradient>
    <linearGradient id="bs" x1="0" y1="0" x2="1" y2="1"><stop offset="0" stop-color="#1e4870"/><stop offset="1" stop-color="#163656"/></linearGradient>
    <linearGradient id="stair" x1="0" y1="0" x2="1" y2="1"><stop offset="0" stop-color="#2f9ae8"/><stop offset="1" stop-color="#1a5eaa"/></linearGradient>
  </defs>
  <rect x="255.6" y="1200.7" width="340.8" height="212.7" fill="url(#bf)"/>
  <rect x="264.9" y="1209.6" width="322.1" height="193.4" fill="#1a2c40"/>
  <rect x="266" y="1210.5" width="320" height="17" fill="#1d456c"/>
  <rect x="267" y="1211" width="15" height="16" fill="#244e78"/>
  <path d="M270 1222 L274 1213 L279 1216 Z" fill="#f08020"/><path d="M269 1219 L272 1224 L277 1223 Z" fill="#40b040"/>
  <text x="285" y="1218" font-size="3.5" fill="#bcd">Super Andon</text><text x="285" y="1224" font-size="4.5" fill="#dde">无线智能安灯系统</text>
  <text x="580" y="1221.5" font-size="6.5" fill="#fff" text-anchor="end" font-weight="bold">苏州凌犀物联网技术有限公司安灯演示系统</text>
  <g>
    <rect x="266" y="1231.3" width="78" height="26.7" fill="#21507c"/><rect x="347" y="1231.3" width="77.4" height="26.7" fill="#21507c"/><rect x="427.5" y="1231.3" width="77.5" height="26.7" fill="#21507c"/><rect x="508" y="1231.3" width="78" height="26.7" fill="#21507c"/>
    <rect x="268.5" y="1233.5" width="19" height="22.5" fill="#1b3e62"/><rect x="349.5" y="1233.5" width="19" height="22.5" fill="#1b3e62"/><rect x="430" y="1233.5" width="19" height="22.5" fill="#1b3e62"/><rect x="510.5" y="1233.5" width="19" height="22.5" fill="#1b3e62"/>
    <circle cx="278" cy="1239.5" r="3" fill="#22a0f0"/><path d="M272 1250 Q278 1241 284 1250 Z" fill="#22a0f0"/>
    <rect x="353" y="1238" width="11" height="9" fill="none" stroke="#22a0f0" stroke-width="1.2"/>
    <rect x="433" y="1237" width="5" height="4" fill="#22a0f0"/><rect x="440" y="1237" width="5" height="4" fill="#22a0f0"/><rect x="433" y="1243" width="5" height="4" fill="#22a0f0"/><rect x="440" y="1243" width="5" height="4" fill="#22a0f0"/>
    <rect x="514" y="1243" width="2" height="6" fill="#22a0f0"/><rect x="517" y="1240" width="2" height="9" fill="#22a0f0"/><rect x="520" y="1242" width="2" height="7" fill="#22a0f0"/><rect x="523" y="1238" width="2" height="11" fill="#22a0f0"/>
    <text x="291" y="1242" font-size="5.5" fill="#22a0f0">客户</text><text x="291" y="1251.5" font-size="6.5" fill="#dde">Name name</text>
    <text x="372" y="1242" font-size="5.5" fill="#22a0f0">型号</text><text x="372" y="1251.5" font-size="6.5" fill="#dde">S56777-H98736a</text>
    <text x="452" y="1242" font-size="5.5" fill="#22a0f0">批次号</text><text x="452" y="1251.5" font-size="6.5" fill="#dde">S56777-H98736a</text>
    <text x="533" y="1242" font-size="5.5" fill="#22a0f0">计划产量</text><text x="533" y="1251.5" font-size="6.5" fill="#dde">5,000,000</text>
  </g>
  <rect x="266" y="1261" width="78" height="141" fill="url(#bs)"/>
  <rect x="347" y="1261" width="158" height="141" fill="url(#bs)"/>
  <rect x="508" y="1261" width="78" height="141" fill="url(#bs)"/>
  <text x="305" y="1275" font-size="7" fill="#dde" text-anchor="middle" font-weight="bold">苏州凌犀演示产线</text>
  <polygon points="308.4,1295.9 337.2,1295.9 325.1,1383.0 279.2,1383.0 279.2,1365.1" fill="#173e6a"/><polygon points="325.1,1295.9 337.2,1295.9 325.1,1383.0 308.8,1383.0" fill="#1672c0"/><polygon points="306.8,1300.2 325.1,1300.2 324.3,1304.9 306.0,1304.9" fill="#1a5590"/><polygon points="308.4,1295.9 337.2,1295.9 325.1,1300.2 306.8,1300.2" fill="#0a7ed8"/><text x="312.0" y="1299.4" font-size="3.4" fill="#fff" font-style="italic" text-anchor="middle">岗位1</text><polygon points="302.5,1309.9 322.0,1309.9 321.2,1315.0 301.8,1315.0" fill="#1a5590"/><polygon points="304.1,1304.9 323.5,1304.9 322.0,1309.9 302.5,1309.9" fill="#0a7ed8"/><text x="308.3" y="1309.1" font-size="3.8" fill="#fff" font-style="italic" text-anchor="middle">岗位2</text><polygon points="297.9,1320.8 319.7,1320.8 318.9,1327.4 297.1,1327.4" fill="#1a5590"/><polygon points="299.4,1315.0 320.4,1315.0 319.7,1320.8 297.9,1320.8" fill="#0a7ed8"/><text x="304.8" y="1320.0" font-size="4.1" fill="#fff" font-style="italic" text-anchor="middle">岗位3</text><polygon points="292.4,1333.7 315.0,1333.7 314.2,1341.0 291.7,1341.0" fill="#1a5590"/><polygon points="294.4,1327.4 316.5,1327.4 315.0,1333.7 292.4,1333.7" fill="#0a7ed8"/><text x="299.7" y="1332.9" font-size="4.4" fill="#fff" font-style="italic" text-anchor="middle">岗位4</text><polygon points="285.8,1348.8 311.1,1348.8 310.3,1357.0 285.1,1357.0" fill="#1a5590"/><polygon points="288.2,1341.0 312.7,1341.0 311.1,1348.8 285.8,1348.8" fill="#0a7ed8"/><text x="294.5" y="1348.0" font-size="4.8" fill="#fff" font-style="italic" text-anchor="middle">岗位5</text><polygon points="279.2,1365.1 308.4,1365.1 307.6,1383.0 278.4,1383.0" fill="#1a5590"/><polygon points="281.6,1357.0 309.5,1357.0 308.4,1365.1 279.2,1365.1" fill="#0a7ed8"/><text x="289.8" y="1364.3" font-size="5.2" fill="#fff" font-style="italic" text-anchor="middle">岗位6</text><circle cx="300.2" cy="1296.7" r="2.3" fill="#f07020"/><circle cx="295.5" cy="1306.4" r="2.3" fill="#80c830"/><circle cx="290.9" cy="1317.3" r="2.3" fill="#80c830"/><circle cx="286.1" cy="1329.8" r="2.3" fill="#80c830"/><circle cx="279.8" cy="1343.8" r="2.3" fill="#80c830"/><circle cx="272.8" cy="1359.7" r="2.3" fill="#80c830"/>
  <text x="353" y="1274.5" font-size="6.5" fill="#dde" font-weight="bold">ANDON事件详细信息栏</text><text x="437" y="1274.5" font-size="6" fill="#dde" font-weight="bold">ANDON DETAIL INFOS</text>
  <text x="353" y="1293.5" font-size="5.5" fill="#22a0f0">序号/No.</text><text x="385" y="1293.5" font-size="5.5" fill="#22a0f0">时间/Time</text><text x="424" y="1293.5" font-size="5.5" fill="#22a0f0">岗位/Position</text><text x="471" y="1293.5" font-size="5.5" fill="#22a0f0">事件/Eent</text>
  <rect x="353" y="1300" width="146" height="0.8" fill="#2a7ac0" opacity="0.7"/>
  <text x="365.5" y="1311.5" font-size="6.5" fill="#dde">1</text><text x="400.5" y="1311.5" font-size="6.5" fill="#dde" text-anchor="middle">13:00</text><text x="443" y="1311.5" font-size="6.5" fill="#dde" text-anchor="middle">1</text><text x="484.5" y="1311.5" font-size="6.5" fill="#f07030" text-anchor="middle">缺料</text><rect x="353" y="1316.5" width="146" height="0.8" fill="#2a7ac0" opacity="0.7"/><text x="365.5" y="1327.6" font-size="6.5" fill="#dde">2</text><text x="400.5" y="1327.6" font-size="6.5" fill="#dde" text-anchor="middle">14:00</text><text x="443" y="1327.6" font-size="6.5" fill="#dde" text-anchor="middle">2</text><text x="484.5" y="1327.6" font-size="6.5" fill="#a0d020" text-anchor="middle">正常</text><rect x="353" y="1332.6" width="146" height="0.8" fill="#2a7ac0" opacity="0.7"/><text x="365.5" y="1343.7" font-size="6.5" fill="#dde">3</text><text x="400.5" y="1343.7" font-size="6.5" fill="#dde" text-anchor="middle">15:00</text><text x="443" y="1343.7" font-size="6.5" fill="#dde" text-anchor="middle">3</text><text x="484.5" y="1343.7" font-size="6.5" fill="#a0d020" text-anchor="middle">正常</text><rect x="353" y="1348.7" width="146" height="0.8" fill="#2a7ac0" opacity="0.7"/><text x="365.5" y="1359.8" font-size="6.5" fill="#dde">4</text><text x="400.5" y="1359.8" font-size="6.5" fill="#dde" text-anchor="middle">16:00</text><text x="443" y="1359.8" font-size="6.5" fill="#dde" text-anchor="middle">4</text><text x="484.5" y="1359.8" font-size="6.5" fill="#a0d020" text-anchor="middle">正常</text><rect x="353" y="1364.8" width="146" height="0.8" fill="#2a7ac0" opacity="0.7"/><text x="365.5" y="1375.9" font-size="6.5" fill="#dde">5</text><text x="400.5" y="1375.9" font-size="6.5" fill="#dde" text-anchor="middle">20:00</text><text x="443" y="1375.9" font-size="6.5" fill="#dde" text-anchor="middle">5</text><text x="484.5" y="1375.9" font-size="6.5" fill="#a0d020" text-anchor="middle">正常</text><rect x="353" y="1380.9" width="146" height="0.8" fill="#2a7ac0" opacity="0.7"/><text x="365.5" y="1392.0" font-size="6.5" fill="#dde">6</text><text x="400.5" y="1392.0" font-size="6.5" fill="#dde" text-anchor="middle">22:00</text><text x="443" y="1392.0" font-size="6.5" fill="#dde" text-anchor="middle">6</text><text x="484.5" y="1392.0" font-size="6.5" fill="#a0d020" text-anchor="middle">正常</text><rect x="353" y="1397.0" width="146" height="0.8" fill="#2a7ac0" opacity="0.7"/>
  <text x="520" y="1291" font-size="6" fill="#fff" font-weight="bold">待解决</text><text x="520" y="1297" font-size="3.5" fill="#8ab">OPEN</text><text x="564" y="1295" font-size="10" fill="#fff" text-anchor="middle" font-weight="bold">50</text>
  <rect x="517" y="1311" width="62" height="0.6" fill="#2a7ac0" opacity="0.6"/>
  <text x="520" y="1333" font-size="6" fill="#fff" font-weight="bold">正在处理</text><text x="520" y="1339" font-size="3.5" fill="#8ab">IN PROGRESS</text><text x="564" y="1336.5" font-size="10" fill="#fff" text-anchor="middle" font-weight="bold">6</text>
  <rect x="517" y="1354" width="62" height="0.6" fill="#2a7ac0" opacity="0.6"/>
  <text x="520" y="1375" font-size="6" fill="#fff" font-weight="bold">已解决</text><text x="520" y="1381" font-size="3.5" fill="#8ab">CLOSED</text><text x="564" y="1378.5" font-size="10" fill="#fff" text-anchor="middle" font-weight="bold">60</text>

  <!-- phone -->
  <defs>
    <linearGradient id="area" x1="0" y1="0" x2="0" y2="1"><stop offset="0" stop-color="#1a8ad8" stop-opacity="0.7"/><stop offset="1" stop-color="#1a5aa8" stop-opacity="0.2"/></linearGradient>
  </defs>
  <rect x="702" y="1199.3" width="90" height="187.3" rx="10" fill="#111"/>
  <rect x="704.3" y="1201.6" width="85.7" height="183" rx="8" fill="#1f3371"/>
  <defs><pattern id="pgrid" width="3" height="3" patternUnits="userSpaceOnUse"><rect width="3" height="0.35" fill="#4a6ab8" opacity="0.35"/><rect width="0.35" height="3" fill="#4a6ab8" opacity="0.35"/></pattern></defs><rect x="745" y="1222" width="45" height="80" fill="url(#pgrid)" opacity="0.6"/><rect x="704.3" y="1290" width="30" height="30" fill="url(#pgrid)" opacity="0.4"/>
  <path d="M723.3 1201.6 H771 V1204 Q771 1208.4 767 1208.4 H727.3 Q723.3 1208.4 723.3 1204 Z" fill="#111"/>
  <rect x="740" y="1203.5" width="12" height="1.6" rx="0.8" fill="#ddd"/><circle cx="756.5" cy="1204.3" r="1.3" fill="#ddd"/>
  <rect x="701" y="1225" width="1.5" height="10" fill="#111"/><rect x="701" y="1240" width="1.5" height="13" fill="#111"/><rect x="792" y="1243" width="1.5" height="18" fill="#111"/>
  <rect x="708.5" y="1212" width="1.3" height="5" fill="#0ab0f0"/><text x="712" y="1216.5" font-size="4" fill="#2a90d8">车间总统计数</text>
  <rect x="708.5" y="1306" width="1.3" height="5" fill="#0ab0f0"/><text x="712" y="1310.5" font-size="4" fill="#2a90d8">月份合计总数</text>
  <path d="M707 1222.5 H739 L741 1224.5 M753 1224.5 L756 1222 H789" stroke="#2a5aa0" stroke-width="0.4" fill="none"/>
  <path d="M706 1249 H731 M755 1249 H789" stroke="#2a5aa0" stroke-width="0.4" fill="none"/>
  <g fill="none" stroke-width="6">
    <circle cx="743.5" cy="1238.7" r="11.6" stroke="#0aa0e8"/>
    <path d="M743.5 1227.1 A11.6 11.6 0 0 0 732 1240" stroke="#f0a880"/>
    <path d="M740 1250 A11.6 11.6 0 0 0 753 1245" stroke="#f8e020"/>
  </g>
  <rect x="721.6" y="1266.9" width="57.5" height="2.6" fill="#0aa0e8"/><rect x="721.6" y="1266.4" width="62" height="3.6" fill="none" stroke="#2a5aa0" stroke-width="0.4"/><text x="712" y="1269.4" font-size="2.8" fill="#3a8ad0">2017年</text><rect x="721.6" y="1274.1000000000001" width="27" height="2.6" fill="#0aa0e8"/><rect x="721.6" y="1273.6000000000001" width="62" height="3.6" fill="none" stroke="#2a5aa0" stroke-width="0.4"/><text x="712" y="1276.6000000000001" font-size="2.8" fill="#3a8ad0">2017年</text><rect x="721.6" y="1281.6000000000001" width="45" height="2.6" fill="#0aa0e8"/><rect x="721.6" y="1281.1000000000001" width="62" height="3.6" fill="none" stroke="#2a5aa0" stroke-width="0.4"/><text x="712" y="1284.1000000000001" font-size="2.8" fill="#3a8ad0">2017年</text><rect x="721.6" y="1288.7" width="57.5" height="2.6" fill="#0aa0e8"/><rect x="721.6" y="1288.2" width="62" height="3.6" fill="none" stroke="#2a5aa0" stroke-width="0.4"/><text x="712" y="1291.2" font-size="2.8" fill="#3a8ad0">2017年</text>
  <path d="M714 1336 Q722 1352 733 1350 Q742 1345 748 1337 Q760 1322 772 1333 Q782 1345 787 1349 V1362 H714 Z" fill="url(#area)"/>
  <path d="M714 1336 Q722 1352 733 1350 Q742 1345 748 1337 Q760 1322 772 1333 Q782 1345 787 1349" stroke="#5ac0f0" stroke-width="0.6" fill="none"/>
  <rect x="716.2" y="1349" width="2.6" height="13" fill="#0ab0f0"/><rect x="723.2" y="1352" width="2.6" height="10" fill="#0ab0f0"/><rect x="730.2" y="1357.5" width="2.6" height="4.5" fill="#0ab0f0"/><rect x="737.2" y="1347" width="2.6" height="15" fill="#0ab0f0"/><rect x="744.2" y="1329" width="2.6" height="33" fill="#0ab0f0"/><rect x="751.2" y="1356.5" width="2.6" height="5.5" fill="#0ab0f0"/><rect x="758.2" y="1338" width="2.6" height="24" fill="#0ab0f0"/><rect x="765.2" y="1348" width="2.6" height="14" fill="#0ab0f0"/><rect x="772.2" y="1350" width="2.6" height="12" fill="#0ab0f0"/><rect x="779.2" y="1353.5" width="2.6" height="8.5" fill="#0ab0f0"/>
  <g fill="#2a5aa0"><rect x="714" y="1330" width="73" height="0.3"/><rect x="714" y="1337" width="73" height="0.3"/><rect x="714" y="1344" width="73" height="0.3"/><rect x="714" y="1351" width="73" height="0.3"/></g>

  <g font-size="3" fill="#3a8ad0"><text x="708" y="1227.5">2013</text><text x="717" y="1227.5">34%</text><text x="765" y="1228.5">2014</text><text x="775" y="1228.5">64%</text><text x="708" y="1247">2017</text><text x="717" y="1247">45%</text><text x="765" y="1247">2018</text><text x="775" y="1247">78%</text>
  <text x="775" y="1265.5">94%</text><text x="746" y="1272.5">45%</text><text x="763" y="1280">75%</text><text x="775" y="1287.5">94%</text>
  <text x="726" y="1318">■ 入库</text><text x="745" y="1318">■ 出库</text>
  <text x="707" y="1330">500</text><text x="707" y="1337">400</text><text x="707" y="1344">300</text><text x="707" y="1351">200</text><text x="707" y="1358">100</text></g>
  <g font-size="2.6" fill="#3a8ad0"><text x="714" y="1371" transform="rotate(-40 714 1371)">2019/01</text><text x="721" y="1371" transform="rotate(-40 721 1371)">2019/02</text><text x="728" y="1371" transform="rotate(-40 728 1371)">2019/03</text><text x="735" y="1371" transform="rotate(-40 735 1371)">2019/04</text><text x="742" y="1371" transform="rotate(-40 742 1371)">2019/05</text><text x="749" y="1371" transform="rotate(-40 749 1371)">2019/06</text><text x="756" y="1371" transform="rotate(-40 756 1371)">2019/07</text><text x="763" y="1371" transform="rotate(-40 763 1371)">2019/08</text><text x="770" y="1371" transform="rotate(-40 770 1371)">2019/09</text><text x="777" y="1371" transform="rotate(-40 777 1371)">2019/10</text></g>
  <!-- imac -->
  <defs>
    <linearGradient id="chin" x1="0" y1="0" x2="0" y2="1"><stop offset="0" stop-color="#e4e5e7"/><stop offset="1" stop-color="#c4c6c9"/></linearGradient>
    <linearGradient id="stand" x1="0" y1="0" x2="0" y2="1"><stop offset="0" stop-color="#b0b2b5"/><stop offset="0.5" stop-color="#e8e9ea"/><stop offset="1" stop-color="#a0a2a5"/></linearGradient>
    <linearGradient id="scr" x1="0" y1="0" x2="0" y2="1"><stop offset="0" stop-color="#3a4142"/><stop offset="1" stop-color="#2a3031"/></linearGradient>
  </defs>
  <path d="M1044 1383 H1096 L1103 1411 H1037 Z" fill="url(#stand)"/>
  <path d="M1030 1410 H1110 L1108 1414.5 H1032 Z" fill="#c8c9cb"/>
  <path d="M937.2 1359 H1203 V1377 Q1203 1383.5 1196.5 1383.5 H943.7 Q937.2 1383.5 937.2 1377 Z" fill="url(#chin)"/>
  <path d="M937.2 1206 Q937.2 1201.2 942 1201.2 H1198 Q1203 1201.2 1203 1206 V1359.4 H937.2 Z" fill="#0c0c0c"/>
  <circle cx="1070" cy="1205.5" r="0.8" fill="#444"/>
  <g transform="translate(1065.3 1364.8)" fill="#111"><path d="M5.5 3 C6 1.5 7 0.5 8 0.3 C8 1.5 7 2.7 5.5 3 Z"/><path d="M5 3.6 C4 3.6 3.4 3.1 2.4 3.1 C1 3.1 0 4.4 0 6.3 C0 8.7 1.6 11.5 2.8 11.5 C3.6 11.5 3.9 11 5 11 C6.1 11 6.4 11.5 7.2 11.5 C8.4 11.5 9.6 9.3 10 8 C8.8 7.5 8.3 6.4 8.3 5.4 C8.3 4.5 8.8 3.8 9.4 3.5 C8.8 3.3 8.1 3.1 7.6 3.1 C6.6 3.1 6 3.6 5 3.6 Z"/></g>
  <rect x="947" y="1209.8" width="246.9" height="141.9" fill="url(#scr)"/>
  <rect x="947" y="1209.8" width="246.9" height="13.7" fill="#323839"/>
  <rect x="951" y="1213.2" width="29" height="6.8" fill="#d72a2a"/>
  <text x="965.5" y="1218.8" font-size="5" fill="#fff" text-anchor="middle" font-weight="bold">C-MES</text>
  <text x="982" y="1218.5" font-size="3.5" fill="#bbb">车间数据看板</text>
  <text x="1150" y="1218.5" font-size="3.5" fill="#bbb" text-anchor="end">2019年7月16日 星期二 16:06:03</text>
  <rect x="1156" y="1211.5" width="32" height="10" rx="1" fill="#2a2f30"/><text x="1172" y="1219" font-size="6" fill="#d83030" text-anchor="middle">开班</text>
  <rect x="951" y="1226" width="34.4" height="56" fill="#383f40"/>
  <rect x="990" y="1226" width="199" height="56" fill="#363d3e"/>
  <text x="968" y="1242" font-size="7" fill="#ddd" text-anchor="middle">BLDC-R</text>
  <circle cx="968.5" cy="1252.5" r="8" fill="#d83030"/><rect x="964" y="1248.5" width="8.5" height="7.5" fill="none" stroke="#fff" stroke-width="0.9"/><rect x="964" y="1248.5" width="8.5" height="2" fill="#fff"/><circle cx="972" cy="1256" r="2.6" fill="#d83030" stroke="#fff" stroke-width="0.8"/>
  <text x="968.5" y="1270" font-size="4" fill="#d83030" text-anchor="middle">生产计划</text>
  <text x="1001" y="1236" font-size="4.3" fill="#bbb">当前订单:13966925</text><text x="1059" y="1236" font-size="4.3" fill="#bbb">料号:2094510</text><text x="1100" y="1236" font-size="4.3" fill="#bbb">订单总量:840</text><text x="1137" y="1236" font-size="4.3" fill="#bbb">订单完成量:55</text>
  <rect x="993" y="1240" width="193" height="0.5" fill="#4a5152"/>
  <text x="1002" y="1250.5" font-size="5.6" fill="#c8c8c8">班计划</text><text x="1002" y="1258" font-size="5.6" fill="#c8c8c8">产 量</text><text x="1043" y="1257" font-size="10.5" fill="#ddd" text-anchor="middle">0</text>
  <text x="1068" y="1250.5" font-size="5.6" fill="#c8c8c8">当前应</text><text x="1068" y="1258" font-size="5.6" fill="#c8c8c8">产 出</text><text x="1105" y="1257" font-size="10.5" fill="#ddd" text-anchor="middle">0</text>
  <text x="1131" y="1250.5" font-size="5.6" fill="#c8c8c8">实 际</text><text x="1131" y="1258" font-size="5.6" fill="#c8c8c8">完成率</text><text x="1167" y="1257" font-size="10.5" fill="#d83030" text-anchor="middle">0%</text>
  <text x="998" y="1272" font-size="5.6" fill="#c8c8c8">不合格品</text><text x="1001" y="1278" font-size="3.8" fill="#bbb">成品/汇总</text><text x="1043" y="1279" font-size="10.5" fill="#ddd" text-anchor="middle">0/0</text>
  <text x="1068" y="1272.5" font-size="5.6" fill="#c8c8c8">实 际</text><text x="1068" y="1280" font-size="5.6" fill="#c8c8c8">产 出</text><text x="1104" y="1279" font-size="10.5" fill="#ddd" text-anchor="middle">0</text>
  <text x="1131" y="1272.5" font-size="5.6" fill="#c8c8c8">实 时</text><text x="1131" y="1280" font-size="5.6" fill="#c8c8c8">效 率</text><text x="1166" y="1279" font-size="10.5" fill="#d83030" text-anchor="middle">0%</text>
  <rect x="951" y="1284.6" width="76.5" height="61" fill="#363d3e"/>
  <rect x="1036" y="1284.6" width="153" height="61" fill="#2e3435"/>
  <rect x="1036" y="1284.6" width="153" height="8" fill="#3a4142"/><g font-size="3.8" fill="#ccc" text-anchor="middle"><text x="1051.5" y="1290.5">日期</text><text x="1080" y="1290.5">安全</text><text x="1104" y="1290.5">质量</text><text x="1128" y="1290.5">设备</text><text x="1152" y="1290.5">物料</text><text x="1176" y="1290.5">工艺</text></g><g font-size="2.6" fill="#999" text-anchor="middle"><text x="1074" y="1298.5">呼叫</text><text x="1086" y="1298.5">确认</text><text x="1098" y="1298.5">呼叫</text><text x="1110" y="1298.5">确认</text><text x="1122" y="1298.5">呼叫</text><text x="1134" y="1298.5">确认</text><text x="1146" y="1298.5">呼叫</text><text x="1158" y="1298.5">确认</text><text x="1170" y="1298.5">呼叫</text><text x="1182" y="1298.5">确认</text></g>
  <g fill="#d83030"><circle cx="989.3" cy="1292.9" r="5.5"/><circle cx="968.2" cy="1314.2" r="5.5"/><circle cx="989.3" cy="1314.7" r="8.5"/><circle cx="1010" cy="1314.2" r="5.5"/><circle cx="989.3" cy="1333.1" r="5.5"/></g>
  <path d="M985.5 1312.5 H993 M989.3 1308.7 V1316.3" stroke="#fff" stroke-width="2.4"/>
  <path d="M965.5 1311.5 L971 1317 M971 1311.5 L965.5 1317" stroke="#fff" stroke-width="1.3"/>
  <text x="1010" y="1316.6" font-size="7" fill="#fff" text-anchor="middle" font-weight="bold">Q</text>
  <rect x="986.5" y="1290.5" width="5.5" height="4.5" fill="none" stroke="#fff" stroke-width="0.8"/>
  <rect x="986" y="1331" width="6.5" height="3.5" fill="#fff" opacity="0.9"/>
  <g font-size="2.8" fill="#aaa" text-anchor="middle"><text x="989.3" y="1302.3">工艺</text><text x="968.2" y="1323.5">设备</text><text x="1010" y="1323.5">质量</text><text x="989.3" y="1342.5">物料</text><text x="989.3" y="1320.8" fill="#fff">安全</text></g>
  <rect x="1068" y="1286" width="0.5" height="60" fill="#555"/><rect x="1092" y="1286" width="0.5" height="60" fill="#555"/><rect x="1116" y="1286" width="0.5" height="60" fill="#555"/><rect x="1140" y="1286" width="0.5" height="60" fill="#555"/><rect x="1164" y="1286" width="0.5" height="60" fill="#555"/><rect x="1188" y="1286" width="0.5" height="60" fill="#555"/><rect x="1037" y="1296.0" width="152" height="0.5" fill="#444"/><rect x="1037" y="1304.6" width="152" height="0.5" fill="#444"/><rect x="1037" y="1313.2" width="152" height="0.5" fill="#444"/><rect x="1037" y="1321.8" width="152" height="0.5" fill="#444"/><rect x="1037" y="1330.4" width="152" height="0.5" fill="#444"/><rect x="1037" y="1339.0" width="152" height="0.5" fill="#444"/><rect x="1037" y="1347.6" width="152" height="0.5" fill="#444"/>
  <text x="1051.5" y="1307.5" font-size="3.8" fill="#eee" text-anchor="middle" font-weight="bold">2019/07/16</text><text x="1051.5" y="1316.2" font-size="3.8" fill="#eee" text-anchor="middle" font-weight="bold">2019/07/15</text><text x="1051.5" y="1324.9" font-size="3.8" fill="#eee" text-anchor="middle" font-weight="bold">2019/07/14</text><text x="1051.5" y="1333.6" font-size="3.8" fill="#eee" text-anchor="middle" font-weight="bold">2019/07/13</text><text x="1051.5" y="1342.3" font-size="3.8" fill="#eee" text-anchor="middle" font-weight="bold">2019/07/12</text>
  <!-- connectors -->
  <g stroke="#0aa0e6" stroke-width="1.5" fill="none">
    <path d="M204.5 153 V258"/>
    <path d="M426 117 H331.5 V221"/>
    <path d="M1416 267.5 H1225.5 V305"/>
    <path d="M1416 576 H1273 V624.5"/>
    <path d="M475 907 V758 H611"/>
    <path d="M305 1042.5 H425.5 V1173.5"/>
    <path d="M922 1041.5 H871.5 V1296 H817"/>
    <path d="M1416 1285.5 H1230"/>
  </g>
  <g>
    <circle cx="204.5" cy="258" r="10.5" fill="#bfe4f8"/><circle cx="204.5" cy="258" r="5" fill="#0aa0e6"/>
    <circle cx="331.5" cy="221" r="10.5" fill="#bfe4f8"/><circle cx="331.5" cy="221" r="5" fill="#0aa0e6"/>
    <circle cx="1225.5" cy="305" r="10.5" fill="#bfe4f8"/><circle cx="1225.5" cy="305" r="5" fill="#0aa0e6"/>
    <circle cx="1273" cy="624.5" r="10.5" fill="#bfe4f8"/><circle cx="1273" cy="624.5" r="5" fill="#0aa0e6"/>
    <circle cx="611" cy="758" r="10.5" fill="#bfe4f8"/><circle cx="611" cy="758" r="5" fill="#0aa0e6"/>
    <circle cx="425.5" cy="1173.5" r="10.5" fill="#bfe4f8"/><circle cx="425.5" cy="1173.5" r="5" fill="#0aa0e6"/>
    <circle cx="817" cy="1296" r="10.5" fill="#bfe4f8"/><circle cx="817" cy="1296" r="5" fill="#0aa0e6"/>
    <circle cx="1230" cy="1285.5" r="10.5" fill="#bfe4f8"/><circle cx="1230" cy="1285.5" r="5" fill="#0aa0e6"/>
  </g>
</svg>
<div class="lbl" style="left:105px;top:81px;width:200px;height:72px;"><span>无线按键</span></div>
<div class="lbl" style="left:426px;top:81px;width:199px;height:72px;"><span>无线塔灯</span></div>
<div class="lbl" style="left:1416px;top:232px;width:234px;"><span>无线爆闪灯</span></div>
<div class="lbl" style="left:1416px;top:541px;width:199px;"><span>双向腕表</span></div>
<div class="lbl" style="left:320px;top:907px;width:309px;"><span>透明工厂一体机</span></div>
<div class="lbl" style="left:105px;top:1007px;width:200px;"><span>工位看板</span></div>
<div class="lbl" style="left:922px;top:1007px;width:268px;"><span>工厂物语APP</span></div>
<div class="lbl" style="left:1416px;top:1250px;width:176px;"><span style="font-size:40px;letter-spacing:0.6px;-webkit-text-stroke:0.5px #fff;">C<span style="display:inline-block;transform:scaleX(1.3);margin:0 3px 0 4px;-webkit-text-stroke:0.5px #fff;">-</span>MES</span></div>
<div class="dash" style="left:1421.5px;top:847.5px;"></div><div class="side" style="left:1463px;top:826px;"><span>硬件</span></div>
<div class="dash" style="left:1421.5px;top:1431.5px;"></div><div class="side" style="left:1462px;top:1410px;"><span>软件</span></div>
</body></html>
